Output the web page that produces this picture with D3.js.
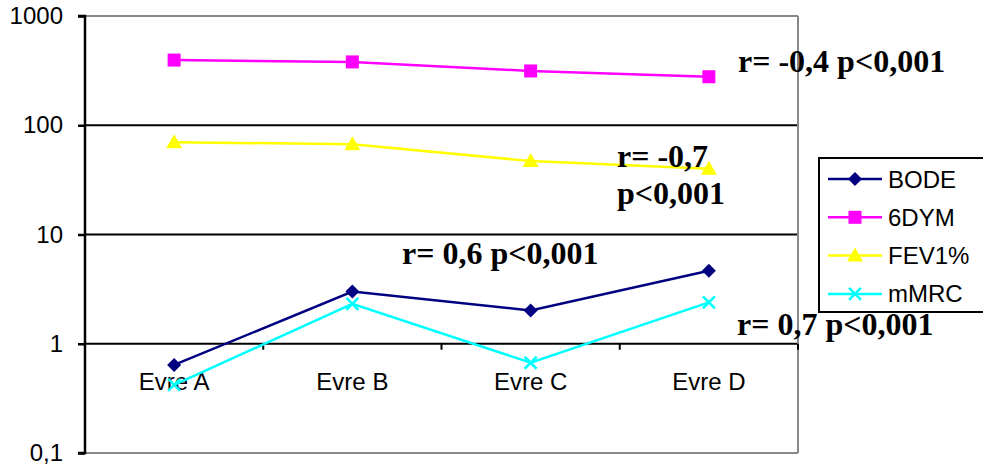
<!DOCTYPE html>
<html><head><meta charset="utf-8">
<script src="https://cdn.jsdelivr.net/npm/d3@7"></script>
<style>body{margin:0;background:#fff}</style>
</head><body>
<svg id="c" width="983" height="470"></svg>
<script>
const categories = ["Evre A", "Evre B", "Evre C", "Evre D"];
const bode = [0.64, 3.0, 2.02, 4.66];
const dym6 = [395, 380, 314, 278];
const fev1 = [70, 67, 47, 40];
const mmrc = [0.42, 2.32, 0.67, 2.39];
const yTicks = [0.1, 1, 10, 100, 1000];
const yTickLabels = ["0,1", "1", "10", "100", "1000"];
const seriesNames = ["BODE", "6DYM", "FEV1%", "mMRC"];
const annotations = [
  {lines: ["r= -0,4 p<0,001"], x: 738, y: 72},
  {lines: ["r= -0,7", "p<0,001"], x: 617, y: 167},
  {lines: ["r= 0,6 p<0,001"], x: 402, y: 264},
  {lines: ["r= 0,7 p<0,001"], x: 737, y: 335}
];

const series = [
  {name: seriesNames[0], values: bode, color: "#000080", marker: "diamond"},
  {name: seriesNames[1], values: dym6, color: "#FF00FF", marker: "square"},
  {name: seriesNames[2], values: fev1, color: "#FFFF00", marker: "triangle"},
  {name: seriesNames[3], values: mmrc, color: "#00FFFF", marker: "x"}
];

const svg = d3.select("#c");
const L = 85, R = 798, T = 16, B = 453;
const x = d3.scaleBand().domain(categories).range([L, R]);
const y = d3.scaleLog().domain([0.1, 1000]).range([B, T]);
const SANS = "Liberation Sans, Arial, sans-serif";

// gridlines
svg.append("g").selectAll("line").data([1, 10, 100]).join("line")
  .attr("x1", L).attr("x2", R).attr("y1", d => y(d)).attr("y2", d => y(d))
  .attr("stroke", "#000").attr("stroke-width", 2);
// plot border (gray)
svg.append("line").attr("x1", L).attr("x2", R).attr("y1", T).attr("y2", T).attr("stroke", "#888").attr("stroke-width", 2);
svg.append("line").attr("x1", L).attr("x2", R).attr("y1", B).attr("y2", B).attr("stroke", "#888").attr("stroke-width", 2);
svg.append("line").attr("x1", R).attr("x2", R).attr("y1", T).attr("y2", B).attr("stroke", "#888").attr("stroke-width", 2);

// y axis
const yAxis = d3.axisLeft(y).tickValues(yTicks).tickSize(7).tickPadding(15)
  .tickFormat((d, i) => yTickLabels[i]);
const gy = svg.append("g").attr("transform", `translate(${L},0)`).call(yAxis);
gy.select(".domain").attr("stroke", "#000").attr("stroke-width", 2.5).attr("d", `M-7,${T}H0V${B}H-7`);
gy.selectAll(".tick line").attr("stroke", "#000").attr("stroke-width", 2.5);
gy.selectAll(".tick text").attr("font-family", SANS).attr("font-size", 24).attr("fill", "#000");

// category axis at y=1
const xAxis = d3.axisBottom(x).tickSize(0).tickPadding(0).tickFormat(d => d);
const gx = svg.append("g").attr("transform", `translate(0,${y(1)})`).call(xAxis);
gx.select(".domain").remove();
gx.selectAll(".tick text").attr("font-family", SANS).attr("font-size", 24).attr("fill", "#000")
  .attr("dy", 0).attr("y", 46);
// tick marks between categories
svg.append("g").selectAll("line").data([1, 2, 3, 4]).join("line")
  .attr("x1", i => i < 4 ? x(categories[i]) : R)
  .attr("x2", i => i < 4 ? x(categories[i]) : R)
  .attr("y1", y(1)).attr("y2", y(1) + 6).attr("stroke", "#000").attr("stroke-width", 2);

function drawMarker(g, type, color, cx, cy) {
  if (type === "diamond") {
    g.append("path").attr("d", `M${cx},${cy-7}L${cx+7},${cy}L${cx},${cy+7}L${cx-7},${cy}Z`).attr("fill", color);
  } else if (type === "square") {
    g.append("rect").attr("x", cx-6.5).attr("y", cy-6.5).attr("width", 13).attr("height", 13).attr("fill", color);
  } else if (type === "triangle") {
    g.append("path").attr("d", `M${cx},${cy-8}L${cx+8},${cy+6}L${cx-8},${cy+6}Z`).attr("fill", color);
  } else {
    g.append("path").attr("d", `M${cx-6},${cy-6}L${cx+6},${cy+6}M${cx-6},${cy+6}L${cx+6},${cy-6}`).attr("stroke", color).attr("stroke-width", 2.5);
  }
}

const line = d3.line().x((d, i) => x(categories[i]) + x.bandwidth() / 2).y(d => y(d));
series.forEach(s => {
  const g = svg.append("g");
  g.append("path").attr("d", line(s.values)).attr("fill", "none").attr("stroke", s.color).attr("stroke-width", 2.5);
  s.values.forEach((v, i) => drawMarker(g, s.marker, s.color, x(categories[i]) + x.bandwidth() / 2, y(v)));
});

// annotations
annotations.forEach(a => {
  const t = svg.append("text").attr("x", a.x).attr("y", a.y)
    .attr("font-family", "Liberation Serif, Times New Roman, serif").attr("font-weight", "bold")
    .attr("font-size", 32).attr("fill", "#000");
  a.lines.forEach((ln, i) => t.append("tspan").attr("x", a.x).attr("dy", i === 0 ? 0 : 37).text(ln));
});

// legend
const lg = svg.append("g");
lg.append("rect").attr("x", 819).attr("y", 158).attr("width", 180).attr("height", 154)
  .attr("fill", "#fff").attr("stroke", "#000").attr("stroke-width", 2);
series.forEach((s, i) => {
  const ly = 179 + i * 38.3;
  lg.append("line").attr("x1", 828).attr("x2", 882).attr("y1", ly).attr("y2", ly).attr("stroke", s.color).attr("stroke-width", 2.5);
  drawMarker(lg, s.marker, s.color, 855, ly);
  lg.append("text").attr("x", 888).attr("y", ly + 8.5).text(s.name)
    .attr("font-family", SANS).attr("font-size", 24).attr("fill", "#000");
});
</script>
</body></html>
